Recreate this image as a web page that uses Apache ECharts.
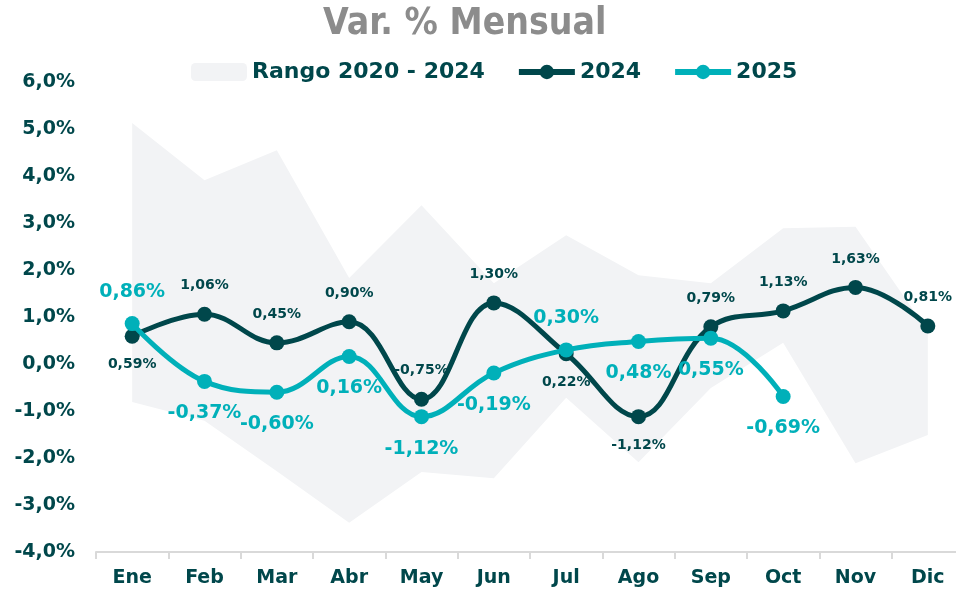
<!DOCTYPE html>
<html>
<head>
<meta charset="utf-8">
<script src="https://cdn.jsdelivr.net/npm/echarts@6/dist/echarts.min.js"></script>
<style>
  html, body { margin: 0; padding: 0; background: #fff; }
  #chart { width: 956px; height: 590px; }
</style>
</head>
<body>
<div id="chart"></div>
<script>
const months = ['Ene', 'Feb', 'Mar', 'Abr', 'May', 'Jun', 'Jul', 'Ago', 'Sep', 'Oct', 'Nov', 'Dic']
// rango 2020 - 2024 (min / max)
const rangeLow = [-0.81, -1.21, -2.28, -3.38, -2.30, -2.43, -0.72, -2.09, -0.51, 0.45, -2.11, -1.51]
const rangeHigh = [5.13, 3.91, 4.55, 1.83, 3.38, 1.72, 2.74, 1.89, 1.72, 2.89, 2.92, 0.70]
const var2024 = [0.59, 1.06, 0.45, 0.90, -0.75, 1.30, 0.22, -1.12, 0.79, 1.13, 1.63, 0.81]
const var2025 = [0.86, -0.37, -0.60, 0.16, -1.12, -0.19, 0.30, 0.48, 0.55, -0.69]
const yMin = -4
const yMax = 6
const yStep = 1

// donde va cada etiqueta
const pos2024 = ['bottom', 'top', 'top', 'top', 'top', 'top', 'bottom', 'bottom', 'top', 'top', 'top', 'top']
const pos2025 = ['top', 'bottom', 'bottom', 'bottom', 'bottom', 'bottom', 'top', 'bottom', 'bottom', 'bottom']

const dark = '#00474B'
const teal = '#00B0B9'
const font = 'DejaVu Sans'

const fmtPct = v => v.toFixed(2).replace('.', ',') + '%'

const rangeSpan = rangeHigh.map((v, i) => +(v - rangeLow[i]).toFixed(2))

const chart = echarts.init(document.getElementById('chart'))

const option = {
  animation: false,
  title: {
    text: 'Var. % Mensual',
    left: 318,
    top: 1,
    textStyle: {
      fontFamily: 'DejaVu Sans Condensed',
      fontSize: 37,
      fontWeight: 'bold',
      color: '#8c8c8c'
    }
  },
  legend: {
    top: 56,
    left: 186,
    itemWidth: 56,
    itemHeight: 18,
    itemGap: 31,
    lineStyle: { width: 6 },
    textStyle: {
      fontFamily: font,
      fontSize: 22,
      fontWeight: 'bold',
      color: dark
    },
    data: [
      { name: 'Rango 2020 - 2024', icon: 'roundRect' },
      '2024',
      '2025'
    ]
  },
  grid: {
    left: 96,
    width: 868,
    top: 82,
    bottom: 38,
    outerBoundsMode: 'none'
  },
  xAxis: {
    type: 'category',
    data: months,
    boundaryGap: true,
    axisLine: { onZero: false, lineStyle: { color: '#d9d9d9', width: 2 }},
    axisTick: { show: true, length: 7, lineStyle: { color: '#d9d9d9', width: 2 }},
    axisLabel: {
      margin: 17,
      fontFamily: font,
      fontSize: 19,
      fontWeight: 'bold',
      color: dark
    },
    splitLine: { show: false }
  },
  yAxis: {
    type: 'value',
    min: yMin,
    max: yMax,
    interval: yStep,
    axisLine: { show: false },
    axisTick: { show: false },
    splitLine: { show: false },
    axisLabel: {
      margin: 21,
      fontFamily: font,
      fontSize: 19,
      fontWeight: 'bold',
      color: dark,
      formatter: v => v.toFixed(1).replace('.', ',') + '%'
    }
  },
  series: [
    {
      name: 'rangoBase',
      type: 'line',
      stack: 'rango',
      stackStrategy: 'all',
      data: rangeLow,
      symbol: 'none',
      silent: true,
      lineStyle: { opacity: 0 },
      itemStyle: { color: '#F2F3F5' }
    },
    {
      name: 'Rango 2020 - 2024',
      type: 'line',
      stack: 'rango',
      stackStrategy: 'all',
      data: rangeSpan,
      symbol: 'none',
      silent: true,
      lineStyle: { opacity: 0 },
      itemStyle: { color: '#F2F3F5' },
      areaStyle: { color: '#F2F3F5', opacity: 1 }
    },
    {
      name: '2024',
      type: 'line',
      smooth: 0.4,
      data: var2024.map((v, i) => ({
        value: v,
        label: { position: pos2024[i] }
      })),
      symbol: 'circle',
      symbolSize: 15,
      lineStyle: { width: 5, color: dark },
      itemStyle: { color: dark },
      label: {
        show: true,
        distance: 14,
        fontFamily: font,
        fontSize: 14,
        fontWeight: 'bold',
        color: dark,
        formatter: p => fmtPct(p.value)
      },
      z: 3
    },
    {
      name: '2025',
      type: 'line',
      smooth: 0.4,
      data: var2025.map((v, i) => ({
        value: v,
        label: { position: pos2025[i] }
      })),
      symbol: 'circle',
      symbolSize: 15,
      lineStyle: { width: 5, color: teal },
      itemStyle: { color: teal },
      label: {
        show: true,
        distance: 15,
        fontFamily: font,
        fontSize: 19,
        fontWeight: 'bold',
        color: teal,
        formatter: p => fmtPct(p.value)
      },
      z: 4
    }
  ]
}

chart.setOption(option)
</script>
</body>
</html>
